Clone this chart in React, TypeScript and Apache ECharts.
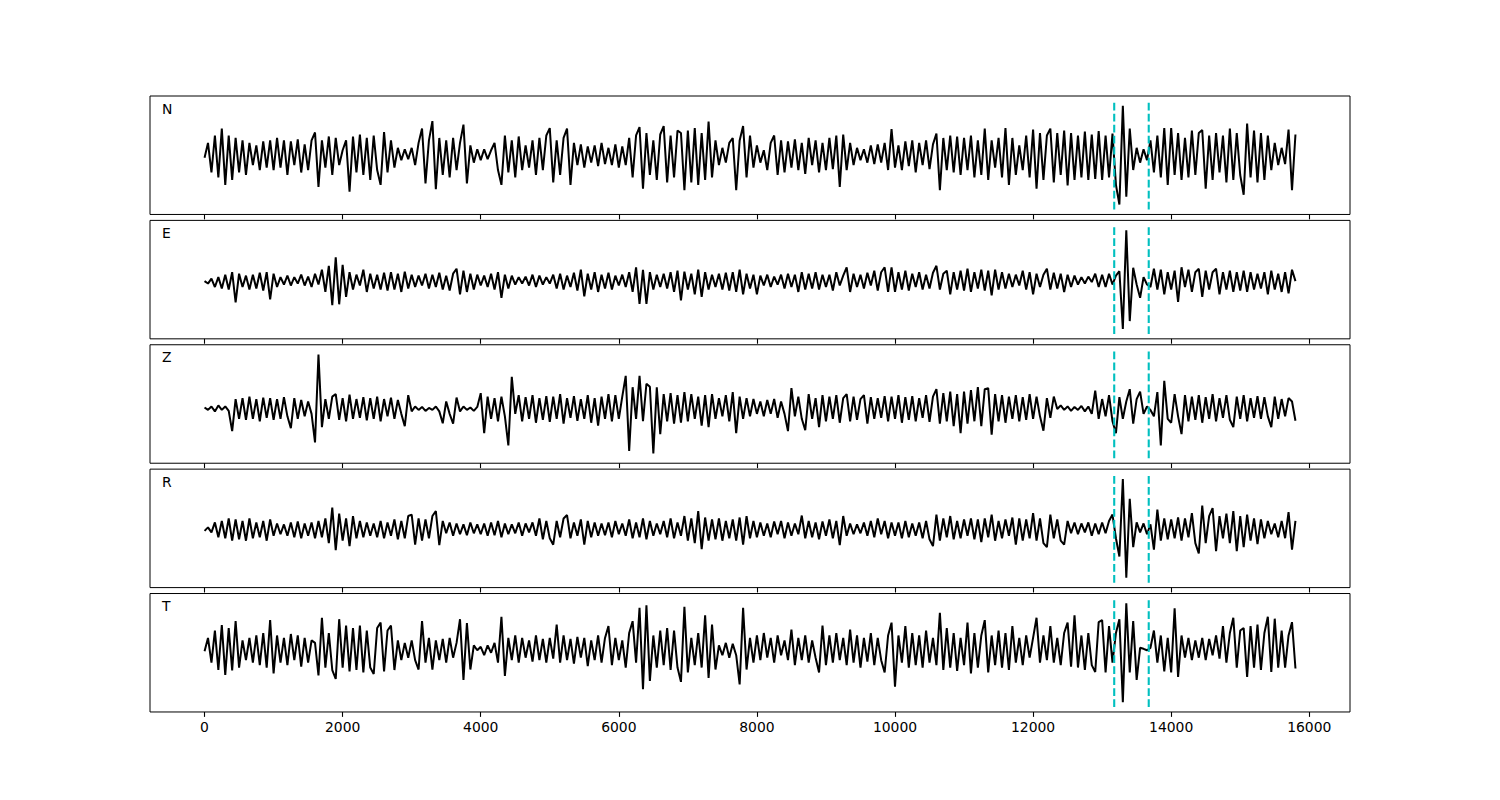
import React, { useEffect, useRef } from "react";
import * as echarts from "echarts";

// ---------- data ----------
const SAMPLE_STEP = 50; // samples every 50 units, starting at 0
const X_TICKS = [0, 2000, 4000, 6000, 8000, 10000, 12000, 14000, 16000];
const CHANNELS = ["N", "E", "Z", "R", "T"];
const PICK_TIMES = [13175, 13675];
const PICK_HALF_HEIGHT = 110; // percent of normalised amplitude
const Y_LIMIT = 120;

// normalised amplitude, percent of each trace's maximum
const N_TRACE = [
  -5, 25, -35, 40, -45, 54, -60, 40, -50, 35, -35, 30, -40, 25, -20, 20, -30, 28, -25, 30,
  -30, 35, -25, 30, -40, 28, -20, 32, -35, 22, -30, 30, 46, -64, 30, -25, 38, -40, 35, -20,
  10, 30, -74, 38, -35, 42, -40, 35, -50, 40, -30, -60, 47, -35, 30, -25, 15, -10, 12, -8,
  15, -20, 25, 54, -57, 30, 69, -69, 35, -40, 30, -45, 35, -30, 25, 62, -57, 20, -15, 12,
  -10, 12, -8, 10, 25, -30, -60, 40, -35, 30, -45, 38, -30, 20, -25, 30, -40, 35, -30, 40,
  55, -55, 30, -40, 35, 54, -60, 25, -20, 22, -25, 18, -15, 20, -22, 25, -18, 15, -20, 22,
  -25, 18, -20, 35, -45, 40, 57, -68, 45, -40, 30, -50, 42, 59, -55, 40, -45, 50, 45, -71,
  50, -55, 55, -60, 45, -50, 68, -45, 30, -20, 15, -15, 25, 35, -71, 30, 59, -45, 40, -25,
  20, -15, 10, -30, 25, 40, -40, 30, -35, 28, -25, 32, -30, 25, -38, 35, -20, 30, -35, 25,
  -30, 35, -28, 40, -64, 42, -30, 25, -20, 15, -10, 12, -15, 20, -18, 22, -15, 25, -30, 53,
  -25, 20, -30, 28, -22, 30, -35, 25, -20, 30, -28, 22, 44, -71, 35, -30, 40, -35, 38, -40,
  35, -30, 40, -45, 30, -40, 54, -50, 30, -25, 35, -45, 55, -60, 35, -40, 20, -30, 40, -45,
  52, -68, 45, -50, 40, 54, -55, 45, -40, 50, -61, 45, -50, 40, -45, 48, -50, 42, -48, 49,
  -50, 40, -45, 44, -60, -100, 100, -84, 54, -30, 15, -15, 12, -10, 30, -35, 40, -45, 55, -60,
  55, -40, 45, -50, 35, -45, 50, -40, 45, 51, -68, 40, -50, 45, -35, 40, -55, 54, -50, 45,
  -40, -80, 64, -45, 50, -55, 45, -50, 40, -30, 25, -20, 15, -18, 52, -71, 42,
];

const E_TRACE = [
  -3, -8, 2, -15, 5, -18, 10, -20, 15, -46, 12, -15, 8, -20, 10, -18, 14, -22, 15, -40,
  12, -15, 5, -10, 8, -12, 5, -8, 10, -12, 6, -15, 12, -10, 20, -25, 28, -52, 45, -50,
  30, -35, 15, -20, 10, -12, 20, -25, 12, -18, 10, -20, 14, -22, 15, -20, 12, -25, 16, -18,
  10, -15, 8, -12, 12, -18, 10, -15, 14, -20, 8, -22, 12, 22, -30, 18, -25, 12, -20, 10,
  -12, 8, -15, 12, -20, 15, -37, 10, -18, 8, -10, 5, -8, 6, -12, 10, -15, 8, -10, 5,
  -8, 10, -18, 12, -20, 8, -15, 14, -22, 20, -34, 12, -20, 15, -25, 10, -18, 14, -20, 8,
  -12, 10, -15, 15, -25, 25, -49, 20, -49, 15, -20, 10, -15, 12, -18, 15, -25, 18, -42, 16,
  -20, 12, -30, 20, -35, 15, -20, 10, -15, 12, -20, 14, -22, 15, -25, 20, -30, 12, -18, 10,
  -30, 8, -12, 10, -15, 6, -10, 10, -18, 12, -15, 10, -25, 15, -20, 12, -18, 15, -20, 10,
  -15, 10, -22, 15, -12, 8, 25, -25, 12, -15, 10, -18, 14, -12, 18, -22, 15, 25, -25, 25,
  -25, 15, -20, 18, -22, 12, -15, 15, -20, 10, -18, 14, 28, -20, 12, 18, -30, 15, -20, 18,
  -22, 22, -25, 15, -18, 20, -22, 18, -32, 20, -20, 15, -18, 12, -15, 10, -12, 18, -20, 15,
  -30, 12, -15, 10, 22, -20, 14, -18, 12, -25, 10, -15, 8, -10, 5, -8, 6, -5, 12, -15,
  10, -15, 12, -10, 8, 17, -100, 100, -84, 24, -10, -37, 5, -10, -15, 22, -20, 20, -30, 15,
  -20, 18, -45, 25, -15, 20, -25, 15, 22, -35, 18, -20, 15, 22, -30, 15, -20, 18, -25, 15,
  -22, 18, -25, 15, -20, 12, -18, 15, -30, 18, -20, 12, -25, 15, -28, 20, -3,
];

const Z_TRACE = [
  -7, -12, -5, -15, -3, -12, -5, -14, -55, 10, -30, 12, -32, 15, -30, 10, -35, 13, -28, 12,
  -32, 10, -30, 14, -25, -49, 12, -30, 8, -25, 5, -20, -78, 100, -47, 10, -30, 15, 20, -32,
  12, -35, 19, -30, 10, -28, 14, -33, 12, -30, 15, -35, 10, -25, 13, -30, 8, -20, -45, 18,
  -15, -5, -12, -6, -14, -8, -12, -5, -15, -39, 5, -20, -40, 13, -15, -5, -12, -7, -14, -6,
  22, -59, 15, -30, 12, -35, 15, -25, -84, 55, -20, 18, -35, 14, -30, 18, -38, 12, -32, 16,
  -36, 15, -30, 20, -40, 12, -28, 16, -34, 10, -30, 18, -38, 12, -44, 15, -30, 20, -35, 18,
  -30, 15, 57, -95, 34, -30, 57, -35, 41, 35, -100, 34, -61, 20, -35, 22, -40, 18, -38, 24,
  -35, 20, -30, 15, -44, 18, -47, 20, -30, 12, -25, 18, -35, 24, -59, 15, -30, 12, -25, 10,
  -20, 5, -25, 8, -20, 10, -28, 5, -20, -55, 32, -25, 15, -30, -53, 20, -30, 12, -47, 18,
  -35, 15, -30, 18, -38, 12, 20, -35, 15, -32, 10, 18, -40, 14, -30, 12, -28, 16, -35, 15,
  -30, 18, -38, 14, -32, 16, -35, 12, -28, 18, -36, 15, 30, -40, 22, -35, 25, -45, 20, -59,
  25, -40, 28, -35, 34, -45, 30, 32, -62, 20, -35, 18, -38, 15, -30, 18, -35, 14, -32, 20,
  -30, 15, -25, -54, 12, -28, 15, -10, -3, -12, -5, -14, -6, -12, -4, -15, -5, -20, 27, -30,
  10, -25, 18, -35, -59, 14, -30, 5, 30, -40, 10, 25, -20, -5, -12, -25, 24, -84, 47, -30,
  -38, 20, -25, -61, 18, -35, 15, -32, 18, -38, 14, -30, 20, -35, 12, -28, 18, -32, -47, 15,
  -30, 18, -35, 12, -28, 16, -30, 14, -25, -47, 15, -30, 10, -25, 12, 5, -34,
];

const R_TRACE = [
  -5, 2, -8, 12, -18, 15, -20, 20, -25, 18, -22, 15, -25, 20, -20, 12, -18, 15, -25, 18,
  -15, 10, -12, 8, -15, 12, -18, 14, -20, 10, -15, 12, -20, 15, -18, 20, -30, 42, -44, 30,
  -25, 20, -36, 25, -20, 15, -18, 12, -15, 10, -18, 15, -20, 12, -15, 18, -22, 15, -20, 25,
  28, -33, 20, -25, 18, -20, 25, 35, -34, 15, -10, 12, -15, 10, -12, 8, -14, 12, -10, 8,
  -12, 10, -15, 12, -14, 15, -18, 10, -12, 8, -10, 12, -15, 10, -8, 12, -15, 20, -22, 15,
  -20, -33, 15, -18, 20, 27, -20, 12, -15, 18, -33, 15, -18, 12, -15, 10, -14, 12, -18, 15,
  -12, 10, -15, 18, -20, 12, -18, 20, -22, 15, -15, 10, -12, 15, -18, 20, -20, 12, -15, 25,
  -25, 20, -30, 35, -42, 22, -25, 18, -22, 20, -25, 15, -20, 18, -25, 22, -33, 25, -20, 15,
  -18, 12, -15, 10, -18, 14, -12, 15, -20, 12, -15, 10, -12, 26, -20, 15, -18, 12, -22, 14,
  -15, 18, -20, 15, -34, 25, -15, 10, -12, 8, -10, 12, -15, 15, -18, 20, -12, 15, -20, 12,
  -15, 12, -20, 15, -18, 10, -15, 12, -20, 15, -22, -36, 28, -25, 20, -18, 25, -22, 15, -20,
  18, -15, 20, -22, 18, -28, 20, -18, 28, -25, 15, -20, 18, -15, 22, -33, 20, -25, 18, -20,
  31, -25, 20, -30, -38, 28, -20, 18, -25, -33, 15, -10, 12, -12, 10, -8, 12, -15, 10, -12,
  12, -10, 15, 28, -20, -57, 100, -100, 60, -38, 12, -8, 10, -12, 8, -43, 38, -25, 20, -22,
  18, -20, 22, -25, 20, -18, 31, -30, -51, 46, -30, 25, 41, -46, 25, -20, 30, -30, 35, -46,
  25, -38, 28, -25, 20, -32, 18, -20, 15, -12, 10, -18, 15, -20, 33, -43, 15,
];

const T_TRACE = [
  3, 30, -20, 45, -35, 56, -45, 50, -36, 64, -30, 25, -15, 30, -20, 35, -25, 40, -30, 66,
  -42, 35, -20, 30, -25, 38, -15, 35, -28, 30, -20, 25, 20, -46, 71, -30, 40, -35, -53, 68,
  -30, 55, -38, 50, -35, 55, -40, 45, -30, -43, 50, 61, -38, 45, 55, -35, 25, -15, 20, -10,
  25, -15, -34, 64, -20, 30, -34, 25, -15, 28, -20, 30, -10, 20, 68, -55, 60, -34, 15, 5,
  12, -5, 15, 0, 20, -20, 73, -47, 30, -15, 35, -20, 30, -10, 25, -18, 35, -15, 28, -20,
  30, -12, 57, -20, 35, -15, 28, -22, 32, -10, 30, -27, 25, -15, 35, -20, 30, 54, -25, 30,
  -15, 25, -30, 40, 64, -20, 91, -74, 96, -57, 35, -30, 45, -25, 50, -35, 45, -30, -59, 93,
  -40, 30, -25, 40, -30, 76, -51, 57, -34, 15, -5, 20, -10, 18, -5, -64, 91, -34, 30, -20,
  35, -15, 40, -10, 30, -20, 35, -5, 25, -15, 47, -25, 30, -15, 35, -20, 25, -10, -40, 55,
  -25, 35, -20, 40, -15, 30, -25, 47, -20, 35, -30, 30, -18, 40, -25, 30, -15, -40, 35, 61,
  -69, 35, -20, 54, -30, 40, -25, 35, -30, 45, -20, 30, -25, 81, -35, 50, -30, 40, -37, 30,
  -25, 61, -42, 40, -30, 35, 66, -40, 35, -25, 45, -30, 40, -35, 54, -20, 30, -25, 35, -10,
  30, 71, -20, 35, -15, 54, -20, 30, -25, 40, 61, -28, 76, -30, 35, -35, 40, -25, -39, 62,
  66, -40, 54, -20, 40, 68, -100, 100, -40, 64, -55, 10, 8, 5, 10, 45, -20, 35, -38, 30,
  -40, 90, -49, 35, -10, 30, -15, 25, -10, 30, -15, 28, -5, 35, -12, 54, -20, 40, 71, -30,
  45, 50, -49, 54, -30, 57, -35, 40, 73, -39, 69, -30, 45, -30, 35, 62, -32,
];

const TRACES = [N_TRACE, E_TRACE, Z_TRACE, R_TRACE, T_TRACE];

// ---------- layout ----------
const X_MIN = -790;
const X_MAX = 16590;
const LEFT = 150;
const WIDTH = 1200;
const TOP0 = 96;
const PANEL_H = 118.46;
const PANEL_STEP = 124.38;
const FONT = "'DejaVu Sans', 'Liberation Sans', sans-serif";

function buildOption() {
  const n = CHANNELS.length;
  const grid = CHANNELS.map((_, k) => ({
    left: LEFT,
    top: TOP0 + k * PANEL_STEP,
    width: WIDTH,
    height: PANEL_H,
    show: true,
    borderColor: "#000",
    borderWidth: 1,
    backgroundColor: "transparent",
    containLabel: false,
    outerBoundsMode: "none",
  }));
  const xAxis = CHANNELS.map((_, k) => ({
    type: "value",
    gridIndex: k,
    position: "bottom",
    min: X_MIN,
    max: X_MAX,
    axisLine: { show: false, onZero: false },
    splitLine: { show: false },
    axisTick: {
      show: true,
      customValues: X_TICKS,
      length: 4.9,
      inside: false,
      lineStyle: { color: "#000", width: 1.1 },
    },
    axisLabel: {
      show: k === n - 1,
      customValues: X_TICKS,
      margin: 8,
      color: "#000",
      fontSize: 13.9,
      fontFamily: FONT,
      formatter: (v: number) => String(v),
    },
  }));
  const yAxis = CHANNELS.map((_, k) => ({
    type: "value",
    gridIndex: k,
    min: -Y_LIMIT,
    max: Y_LIMIT,
    show: false,
    splitLine: { show: false },
  }));
  const traceSeries = TRACES.map((tr, k) => ({
    type: "line",
    xAxisIndex: k,
    yAxisIndex: k,
    data: tr.map((v, i) => [i * SAMPLE_STEP, v]),
    showSymbol: false,
    symbol: "none",
    silent: true,
    lineStyle: { color: "#000", width: 2 },
    z: 2,
  }));
  const pickSeries: any[] = [];
  CHANNELS.forEach((_, k) => {
    PICK_TIMES.forEach((t) => {
      pickSeries.push({
        type: "line",
        xAxisIndex: k,
        yAxisIndex: k,
        data: [
          [t, -PICK_HALF_HEIGHT],
          [t, PICK_HALF_HEIGHT],
        ],
        showSymbol: false,
        symbol: "none",
        silent: true,
        lineStyle: { color: "#00bfbf", width: 2.1, type: [7.7, 3.3] },
        z: 3,
      });
    });
  });
  const graphic = CHANNELS.map((name, k) => ({
    type: "text",
    x: LEFT + 0.01 * WIDTH,
    y: TOP0 + k * PANEL_STEP + 12.5,
    silent: true,
    style: {
      text: name,
      fill: "#000",
      fontSize: 13.9,
      fontFamily: FONT,
      align: "left",
      verticalAlign: "middle",
    },
  }));
  return {
    animation: false,
    backgroundColor: "#fff",
    grid,
    xAxis,
    yAxis,
    series: [...traceSeries, ...pickSeries],
    graphic,
  };
}

export default function App() {
  const ref = useRef<HTMLDivElement | null>(null);
  useEffect(() => {
    if (!ref.current) return;
    const chart = echarts.init(ref.current, undefined, { renderer: "svg" });
    chart.setOption(buildOption() as any);
    return () => chart.dispose();
  }, []);
  return (
    <div
      ref={ref}
      style={{ position: "absolute", left: 0, top: 0, width: 1500, height: 800 }}
    />
  );
}
